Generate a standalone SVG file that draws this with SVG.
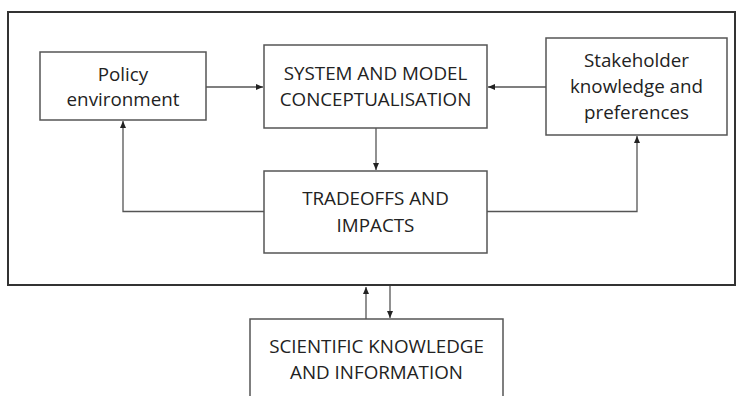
<svg xmlns="http://www.w3.org/2000/svg" width="736" height="396" viewBox="0 0 736 396">
<defs>
<marker id="ah" markerWidth="8" markerHeight="8" refX="7" refY="4" orient="auto" markerUnits="userSpaceOnUse">
<path d="M0,1 L7,4 L0,7 Z" fill="#222"/>
</marker>
<style>
.box{fill:#fff;stroke:#555;stroke-width:1.5}
.frame{fill:none;stroke:#333;stroke-width:2}
.t{font-family:"Open Sans","Liberation Sans",sans-serif;font-size:18.8px;fill:#222;text-anchor:middle}
.c{fill:none;stroke:#555;stroke-width:1.3}
</style>
</defs>
<rect class="frame" x="8" y="12" width="727" height="273"/>
<g id="policy">
<rect class="box" x="40" y="52" width="166" height="68"/>
<text class="t" x="123" y="81">Policy</text>
<text class="t" x="123" y="106">environment</text>
</g>
<g id="system">
<rect class="box" x="264" y="45" width="223" height="83"/>
<text class="t" x="375.5" y="80">SYSTEM AND MODEL</text>
<text class="t" x="375.5" y="106">CONCEPTUALISATION</text>
</g>
<g id="stakeholder">
<rect class="box" x="546" y="38" width="181" height="97"/>
<text class="t" x="636.5" y="67">Stakeholder</text>
<text class="t" x="636.5" y="93">knowledge and</text>
<text class="t" x="636.5" y="119">preferences</text>
</g>
<g id="tradeoffs">
<rect class="box" x="264" y="171" width="223" height="82"/>
<text class="t" x="375.5" y="205">TRADEOFFS AND</text>
<text class="t" x="375.5" y="232">IMPACTS</text>
</g>
<g id="scientific">
<rect class="box" x="250" y="319" width="253" height="90"/>
<text class="t" x="376.5" y="353">SCIENTIFIC KNOWLEDGE</text>
<text class="t" x="376.5" y="379">AND INFORMATION</text>
</g>
<g id="connectors">
<line class="c" x1="206" y1="87" x2="263" y2="87" marker-end="url(#ah)"/>
<line class="c" x1="546" y1="87" x2="488" y2="87" marker-end="url(#ah)"/>
<line class="c" x1="376" y1="128" x2="376" y2="170" marker-end="url(#ah)"/>
<polyline class="c" points="264,211.5 123,211.5 123,121" marker-end="url(#ah)"/>
<polyline class="c" points="487,211.5 637,211.5 637,136" marker-end="url(#ah)"/>
<line class="c" x1="366" y1="319" x2="366" y2="287" marker-end="url(#ah)"/>
<line class="c" x1="390" y1="286" x2="390" y2="318" marker-end="url(#ah)"/>
</g>
</svg>
